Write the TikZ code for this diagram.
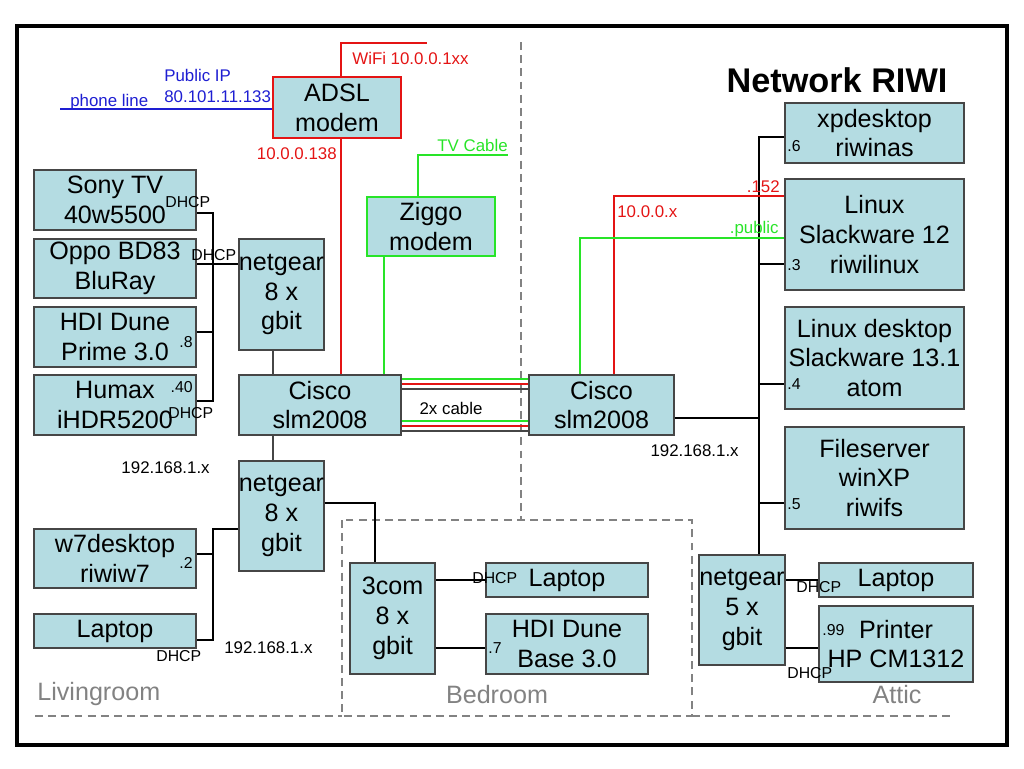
\documentclass[tikz,border=0pt]{standalone}
\usepackage{fontspec}
\setmainfont{Liberation Sans}
\usepackage{xcolor}
\usetikzlibrary{calc}
\usetikzlibrary{positioning}
\definecolor{boxfill}{RGB}{180,220,226}
\definecolor{boxline}{RGB}{70,70,70}
\definecolor{netred}{RGB}{228,20,20}
\definecolor{netgreen}{RGB}{40,228,40}
\definecolor{netblue}{RGB}{30,30,210}
\definecolor{roomgrey}{RGB}{130,130,130}
\tikzset{dev/.style={draw=boxline,fill=boxfill,line width=0.9pt,align=center,inner sep=0pt,font=\fontsize{14.3}{17}\selectfont},
sz/.style 2 args={minimum width=#1*0.02cm,minimum height=#2*0.02cm},
wire/.style={line width=0.6pt},
gwire/.style={line width=0.8pt,boxline},
rwire/.style={line width=0.7pt,netred},
gnwire/.style={line width=0.7pt,netgreen},
bwire/.style={line width=0.7pt,netblue},
addr/.style={inner sep=0pt,font=\fontsize{9.6}{12}\selectfont},
hint/.style={inner sep=0pt,font=\fontsize{9}{10}\selectfont},
room/.style={roomgrey,line width=1.2pt,dash pattern=on 4.5pt off 3pt},
roomlbl/.style={inner sep=0pt,text=roomgrey,font=\fontsize{14.3}{17}\selectfont}}
\begin{document}
\begin{tikzpicture}[x=0.02cm,y=-0.02cm]
\useasboundingbox (0,0) rectangle (1024,768);
\draw[line width=2.8pt] (17,26) rectangle (1007,745);
\draw[room] (521,42) -- (521,520);
\draw[room] (342,520) rectangle (692,716);
\draw[room] (35,716) -- (342,716) (692,716) -- (955,716);
\node[roomlbl,anchor=west] at (37,694) {Livingroom};
\node[roomlbl] at (497,695) {Bedroom};
\node[roomlbl] at (897,695) {Attic};
\node[inner sep=0pt,font=\bfseries\fontsize{19.5}{22}\selectfont] (title) at (837,80) {Network RIWI};

\node[dev,sz={128}{61},draw=netred] (adsl) at (337,107.5) {ADSL\\modem};
\node[dev,sz={128}{59},draw=netgreen] (ziggo) at (431,226.5) {Ziggo\\modem};
\node[dev,sz={162}{60}] (sony) at (115,200) {Sony TV\\40w5500};
\node[dev,sz={162}{59}] (oppo) at (115,268.5) {Oppo BD83\\BluRay};
\node[dev,sz={162}{60}] (hdip) at (115,337) {HDI Dune\\Prime 3.0};
\node[dev,sz={162}{60}] (humax) at (115,405) {Humax\\iHDR5200};
\node[dev,sz={85}{111}] (ngA) at (281.5,294.5) {netgear\\8 x\\gbit};
\node[dev,sz={162}{60}] (ciscoL) at (320,405) {Cisco\\slm2008};
\node[dev,sz={85}{110}] (ngB) at (281.5,516) {netgear\\8 x\\gbit};
\node[dev,sz={162}{59}] (w7) at (115,558.5) {w7desktop\\riwiw7};
\node[dev,sz={162}{34}] (lapL) at (115,631) {Laptop};
\node[dev,sz={145}{60}] (ciscoR) at (601.5,405) {Cisco\\slm2008};
\node[dev,sz={85}{111}] (tcom) at (392.5,618.5) {3com\\8 x\\gbit};
\node[dev,sz={162}{34}] (lapB) at (567,580) {Laptop};
\node[dev,sz={162}{60}] (hdib) at (567,644) {HDI Dune\\Base 3.0};
\node[dev,sz={179}{60}] (xpd) at (874.5,133) {xpdesktop\\riwinas};
\node[dev,sz={179}{111}] (slack) at (874.5,234.5) {Linux\\Slackware 12\\riwilinux};
\node[dev,sz={179}{102}] (ldesk) at (874.5,358) {Linux desktop\\Slackware 13.1\\atom};
\node[dev,sz={179}{102}] (fsrv) at (874.5,478) {Fileserver\\winXP\\riwifs};
\node[dev,sz={86}{110}] (ngC) at (742,610) {netgear\\5 x\\gbit};
\node[dev,sz={154}{34}] (lapA) at (896,580) {Laptop};
\node[dev,sz={154}{76}] (prn) at (896,644) {Printer\\HP CM1312};

\coordinate (phone) at (60,109);
\coordinate (wifi) at (427,43);
\coordinate (rup) at (341,0);
\coordinate (lup) at (273,0);
\coordinate (zdown) at (384,0);
\coordinate (zup) at (418,0);
\coordinate (tv) at (508,155);
\draw[bwire] (phone) -- (adsl.west |- phone);
\draw[rwire] (rup |- adsl.north) -- (rup |- wifi) -- (wifi);
\draw[rwire] (rup |- ciscoL.north) -- (rup |- adsl.south);
\draw[gnwire] (zup |- ziggo.north) -- (zup |- tv) -- (tv);
\draw[gnwire] (zdown |- ziggo.south) -- (zdown |- ciscoL.north);
\draw[gwire] (lup |- ngA.south) -- (lup |- ciscoL.north);
\draw[gwire] (lup |- ciscoL.south) -- (lup |- ngB.north);

\coordinate (lbus1) at (213,213);
\coordinate (lbus2) at (213,264);
\coordinate (lbus3) at (213,332);
\coordinate (lbus4) at (213,401);
\draw[wire] (sony.east |- lbus1) -- (lbus1) -- (lbus4) -- (humax.east |- lbus4);
\draw[wire] (hdip.east |- lbus3) -- (lbus3);
\draw[wire] (oppo.east |- lbus2) -- (ngA.west |- lbus2);
\coordinate (lbus5) at (213,529);
\coordinate (lbus6) at (213,554);
\coordinate (lbus7) at (213,640);
\draw[wire] (ngB.west |- lbus5) -- (lbus5) -- (lbus7) -- (lapL.east |- lbus7);
\draw[wire] (w7.east |- lbus6) -- (lbus6);
\coordinate (bed) at (375,503);
\draw[wire] (ngB.east |- bed) -- (bed) -- (bed |- tcom.north);

\foreach \y/\c in {379/netgreen,384/netred,389/boxline,421/netgreen,426/netred,431/boxline}
\draw[line width=1.1pt,\c] (ciscoL.east |- 0,\y) -- (ciscoR.west |- 0,\y);

\coordinate (rbus) at (759,137);
\coordinate (rred) at (614,196);
\coordinate (rgrn) at (580,238);
\draw[wire] (xpd.west |- rbus) -- (rbus) -- (rbus |- ngC.north);
\foreach \n/\y in {slack/264,ldesk/384,fsrv/503}
\draw[wire] (rbus |- 0,\y) -- (\n.west |- 0,\y);
\draw[wire] (ciscoR.east |- 0,418) -- (rbus |- 0,418);
\draw[rwire] (rred |- ciscoR.north) -- (rred) -- (slack.west |- rred);
\draw[gnwire] (rgrn |- ciscoR.north) -- (rgrn) -- (slack.west |- rgrn);
\foreach \a/\b/\y in {tcom/lapB/580,tcom/hdib/648,ngC/lapA/580,ngC/prn/648}
\draw[wire] (\a.east |- 0,\y) -- (\b.west |- 0,\y);

\node[addr,text=netblue,align=left,anchor=west,font=\fontsize{9.6}{12}\selectfont] at (164,86) {Public IP\\80.101.11.133};
\node[addr,text=netblue,anchor=west] at (70,102) {phone line};
\node[addr,text=netred,anchor=west] at (352,58) {WiFi 10.0.0.1xx};
\node[addr,text=netred,anchor=east] at (337,154) {10.0.0.138};
\node[addr,text=netgreen,anchor=east] at (508,145) {TV Cable};
\node[addr,text=netred,anchor=west] at (617,212) {10.0.0.x};
\node[addr,text=netred,anchor=east] at (780,187) {.152};
\node[addr,text=netgreen,anchor=east] at (779,229) {.public};
\node[addr] at (451,408) {2x cable};
\node[addr,anchor=east] at (210,468) {192.168.1.x};
\node[addr,anchor=west] at (224,648) {192.168.1.x};
\node[addr,anchor=east] at (739,451) {192.168.1.x};

\node[hint,anchor=west] at (165,202) {DHCP};
\node[hint,anchor=west] at (191,255) {DHCP};
\node[hint,anchor=east] at (193,342) {.8};
\node[hint,anchor=east] at (193,387) {.40};
\node[hint,anchor=west] at (168,413) {DHCP};
\node[hint,anchor=east] at (193,563) {.2};
\node[hint,anchor=west] at (156,656) {DHCP};
\node[hint,anchor=west] at (472,578) {DHCP};
\node[hint,anchor=west] at (488,648) {.7};
\node[hint,anchor=west] at (787,146) {.6};
\node[hint,anchor=west] at (787,265) {.3};
\node[hint,anchor=west] at (787,384) {.4};
\node[hint,anchor=west] at (787,504) {.5};
\node[hint,anchor=west] at (796,587) {DHCP};
\node[hint,anchor=west] at (822,630) {.99};
\node[hint,anchor=west] at (787,673) {DHCP};
\end{tikzpicture}
\end{document}
